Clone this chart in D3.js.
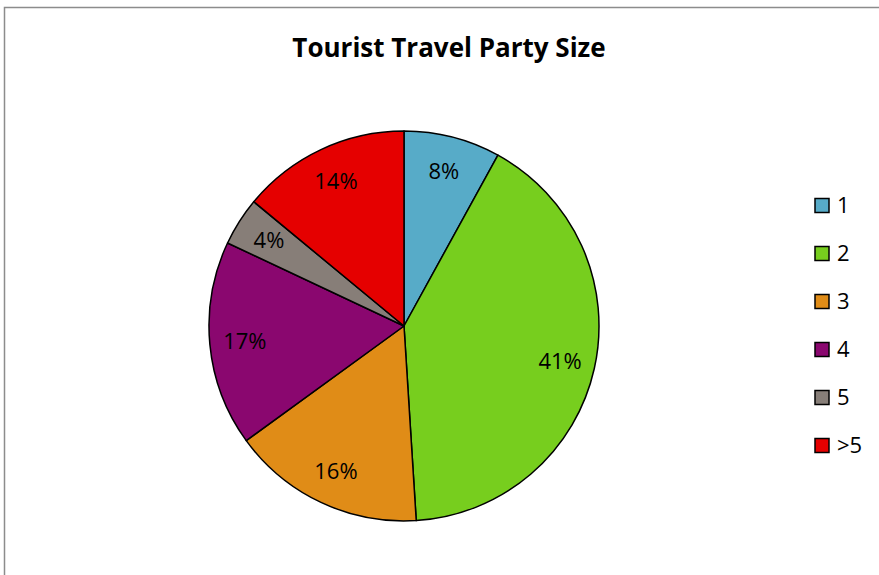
<!DOCTYPE html>
<html>
<head>
<meta charset="utf-8">
<script src="https://cdn.jsdelivr.net/npm/d3@7"></script>
<style>
  html, body { margin: 0; padding: 0; background: #fff; }
  svg { display: block; }
</style>
</head>
<body>
<svg id="chart" width="879" height="575"></svg>
<script>
// Party size categories and their share of tourists (%)
const categories = ["1", "2", "3", "4", "5", ">5"];
const shares = [8, 41, 16, 17, 4, 14];
const colors = ["#57abc8", "#77ce1e", "#e08c17", "#8a076f", "#877e78", "#e50000"];
const title = "Tourist Travel Party Size";

const font = "'Open Sans', Lato, 'Liberation Sans', sans-serif";
const svg = d3.select("#chart");

// Chart frame
svg.append("rect")
  .attr("x", 4.5).attr("y", 7.5)
  .attr("width", 900).attr("height", 600)
  .attr("fill", "#fff")
  .attr("stroke", "#8c8c8c")
  .attr("stroke-width", 1.5);

svg.append("text")
  .attr("x", 449).attr("y", 57)
  .attr("text-anchor", "middle")
  .attr("font-family", font)
  .attr("font-weight", "bold")
  .attr("font-size", 26)
  .attr("fill", "#000")
  .text(title);

const cx = 404, cy = 326, r = 195;
const data = categories.map((c, i) => ({ cat: c, value: shares[i], color: colors[i] }));

const pie = d3.pie().value(d => d.value).sort(null);
const arc = d3.arc().innerRadius(0).outerRadius(r);
const labelArc = d3.arc().innerRadius(r * 0.82).outerRadius(r * 0.82);

const g = svg.append("g").attr("transform", `translate(${cx},${cy})`);
const arcs = pie(data);

g.selectAll("path.slice")
  .data(arcs)
  .enter().append("path")
  .attr("class", "slice")
  .attr("d", arc)
  .attr("fill", d => d.data.color)
  .attr("stroke", "#000")
  .attr("stroke-width", 1.5)
  .attr("stroke-linejoin", "round");

g.selectAll("text.pct")
  .data(arcs)
  .enter().append("text")
  .attr("class", "pct")
  .attr("transform", d => `translate(${labelArc.centroid(d)})`)
  .attr("text-anchor", "middle")
  .attr("y", 8)
  .attr("font-family", font)
  .attr("font-size", 22)
  .attr("fill", "#000")
  .text(d => d.data.value + "%");

// Legend
const legend = svg.append("g").attr("transform", "translate(815,205.5)");
const item = legend.selectAll("g.item")
  .data(data)
  .enter().append("g")
  .attr("class", "item")
  .attr("transform", (d, i) => `translate(0,${i * 48})`);

item.append("rect")
  .attr("x", 0).attr("y", -7)
  .attr("width", 14).attr("height", 14)
  .attr("fill", d => d.color)
  .attr("stroke", "#000")
  .attr("stroke-width", 1.5);

item.append("text")
  .attr("x", 22).attr("y", 7.5)
  .attr("font-family", font)
  .attr("font-size", 22)
  .attr("fill", "#000")
  .text(d => d.cat);
</script>
</body>
</html>
